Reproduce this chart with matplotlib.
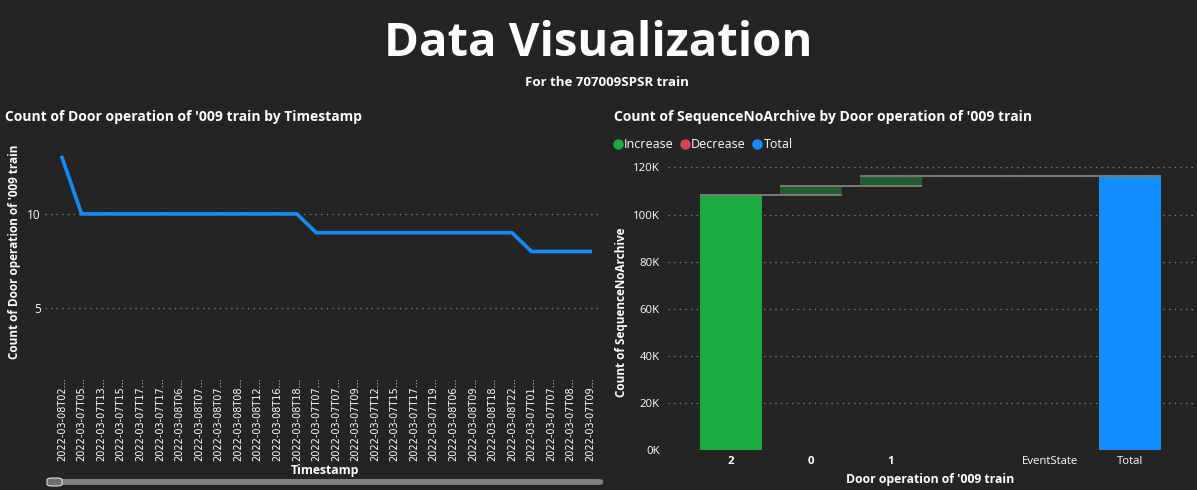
import numpy as np
import matplotlib
matplotlib.use("Agg")
import matplotlib.pyplot as plt
from matplotlib.lines import Line2D
from matplotlib.patches import FancyBboxPatch

# ---- data ----
timestamps = [
    "2022-03-08T02...", "2022-03-07T05...", "2022-03-07T13...", "2022-03-07T15...",
    "2022-03-07T17...", "2022-03-07T17...", "2022-03-08T06...", "2022-03-08T07...",
    "2022-03-08T07...", "2022-03-08T08...", "2022-03-08T12...", "2022-03-08T16...",
    "2022-03-08T18...", "2022-03-07T07...", "2022-03-07T07...", "2022-03-07T09...",
    "2022-03-07T12...", "2022-03-07T15...", "2022-03-07T17...", "2022-03-07T19...",
    "2022-03-08T06...", "2022-03-08T09...", "2022-03-08T18...", "2022-03-08T22...",
    "2022-03-07T01...", "2022-03-07T07...", "2022-03-07T08...", "2022-03-07T09...",
]
door_counts = [13, 10, 10, 10, 10, 10, 10, 10, 10, 10, 10, 10, 10,
               9, 9, 9, 9, 9, 9, 9, 9, 9, 9, 9,
               8, 8, 8, 8]

wf_categories = ["2", "0", "1", "", "EventState"]
wf_changes = [108400, 3800, 4000, 150, 100]
total_label = "Total"

# ---- style ----
BG = "#252423"
WHITE = "#ffffff"
GRID = "#8a8a8a"
BLUE = "#118dff"
GREEN = "#1aab40"
DARK_GREEN = "#215c33"
RED = "#d64550"
CONNECTOR = "#7a7a7a"
wf_colors = [GREEN, DARK_GREEN, DARK_GREEN, DARK_GREEN, DARK_GREEN]

W, H = 1197, 490
plt.rcParams['font.family'] = ['Open Sans', 'DejaVu Sans']

fig = plt.figure(figsize=(W / 100, H / 100), dpi=100, facecolor=BG)


def rect(l, t, r, b):
    return [l / W, 1 - b / H, (r - l) / W, (b - t) / H]


def fx(x):
    return x / W


def fy(y):
    return 1 - y / H


def style_axes(ax):
    ax.set_facecolor(BG)
    for s in ax.spines.values():
        s.set_visible(False)
    ax.tick_params(length=0, colors=WHITE)
    ax.yaxis.grid(True, color=GRID, linestyle=(0, (1, 3.5)), linewidth=0.9)
    ax.set_axisbelow(True)


# headers
fig.text(0.5, fy(43), "Data Visualization", ha="center", va="center",
         color=WHITE, fontsize=34, fontweight="bold")
fig.text(fx(607), fy(82), "For the 707009SPSR train", ha="center", va="center",
         color=WHITE, fontsize=9.5, fontweight="bold")

# ---- left: line chart ----
ax1 = fig.add_axes(rect(45, 148, 600, 372))
style_axes(ax1)
x = np.arange(len(timestamps))
ax1.plot(x, door_counts, color=BLUE, linewidth=2.6, solid_joinstyle="miter")
ax1.set_xlim(-0.87, 27.5)
ax1.set_ylim(1.6, 13.5)
ax1.set_yticks([5, 10])
ax1.set_yticklabels(["5", "10"], fontsize=8.5)
ax1.set_xticks(x)
ax1.set_xticklabels(timestamps, rotation=90, fontsize=7, color=WHITE,
                    family="DejaVu Sans")
ax1.tick_params(axis="x", pad=4)
ax1.tick_params(axis="y", pad=3)

fig.text(fx(5), fy(117), "Count of Door operation of '009 train by Timestamp",
         ha="left", va="center", color=WHITE, fontsize=10, fontweight="bold")
fig.text(fx(15), fy(252), "Count of Door operation of '009 train", rotation=90,
         ha="center", va="center", color=WHITE, fontsize=8.5, fontweight="bold")
fig.text(fx(325), fy(470), "Timestamp", ha="center", va="center",
         color=WHITE, fontsize=8.8, fontweight="bold")

# scrollbar
fig.patches.append(FancyBboxPatch((fx(50), fy(485)), fx(553), 6 / H,
                                  boxstyle="round,pad=0,rounding_size=0.004",
                                  transform=fig.transFigure, facecolor="#808080",
                                  edgecolor="none"))
fig.patches.append(FancyBboxPatch((fx(47), fy(486)), fx(15), 8 / H,
                                  boxstyle="round,pad=0,rounding_size=0.004",
                                  transform=fig.transFigure, facecolor="#6e6e6e",
                                  edgecolor="#e0e0e0", linewidth=0.8))

# ---- right: waterfall ----
ax2 = fig.add_axes(rect(668, 158, 1195, 450))
style_axes(ax2)
cats = wf_categories + [total_label]
xs = np.arange(len(cats))
ends = np.cumsum(wf_changes)
starts = ends - np.array(wf_changes)
bw = 0.775
ax2.bar(xs[:-1], wf_changes, bottom=starts, width=bw, color=wf_colors,
        edgecolor="none", zorder=2)
ax2.bar(xs[-1], ends[-1], width=bw, color=BLUE, edgecolor="none", zorder=2)
for i in range(len(wf_changes)):
    ax2.plot([xs[i] - bw / 2, xs[i + 1] + bw / 2], [ends[i], ends[i]],
             color=CONNECTOR, linewidth=1.4, zorder=3, solid_capstyle="butt")
ax2.set_xlim(-0.79, len(cats) - 1 + 0.81)
ax2.set_ylim(0, 124000)
yt = np.arange(0, 120001, 20000)
ax2.set_yticks(yt)
ax2.set_yticklabels([f"{int(v / 1000)}K" for v in yt], fontsize=8.2)
ax2.set_xticks(xs)
ax2.set_xticklabels(cats, fontsize=8.2)
for lbl in ax2.get_xticklabels()[:3]:
    lbl.set_fontweight("bold")
ax2.tick_params(axis="x", pad=4)
ax2.tick_params(axis="y", pad=6)

fig.text(fx(614), fy(117), "Count of SequenceNoArchive by Door operation of '009 train",
         ha="left", va="center", color=WHITE, fontsize=10, fontweight="bold")
fig.text(fx(622), fy(312), "Count of SequenceNoArchive", rotation=90,
         ha="center", va="center", color=WHITE, fontsize=8.5, fontweight="bold")
fig.text(fx(930), fy(479), "Door operation of '009 train", ha="center", va="center",
         color=WHITE, fontsize=8.8, fontweight="bold")

handles = [Line2D([], [], marker="o", linestyle="none", markersize=7.5,
                  markerfacecolor=c, markeredgecolor="none")
           for c in (GREEN, RED, BLUE)]
leg = fig.legend(handles, ["Increase", "Decrease", "Total"], ncol=3,
                 loc="center left", bbox_to_anchor=(fx(614), fy(145)),
                 frameon=False, fontsize=9, handlelength=0.6,
                 handletextpad=0.2, columnspacing=0.6, labelcolor=WHITE,
                 borderpad=0, borderaxespad=0)

fig.savefig("out.png", dpi=100, facecolor=BG)
